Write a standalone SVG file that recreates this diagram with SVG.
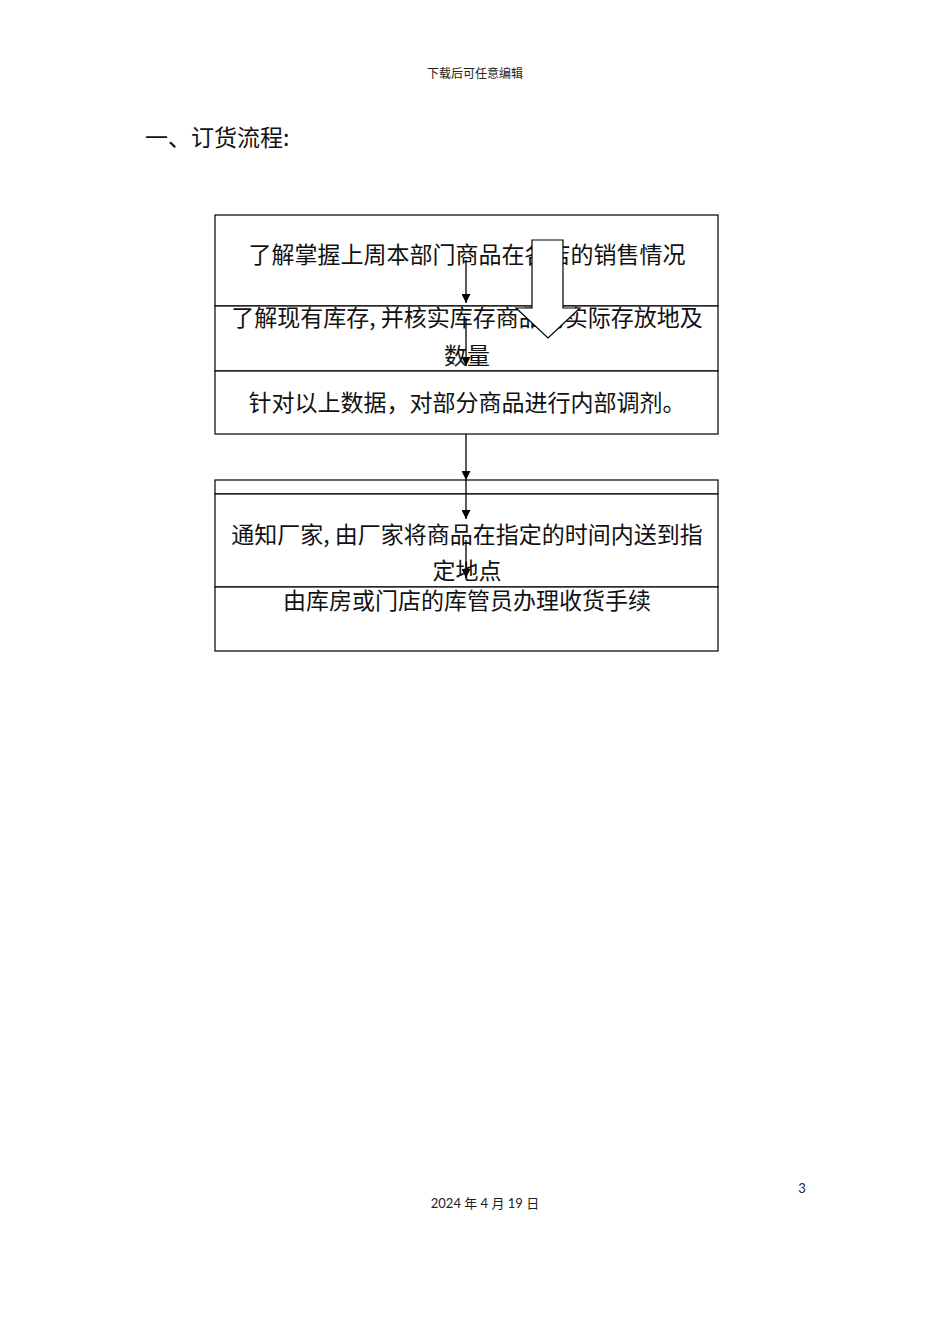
<svg xmlns="http://www.w3.org/2000/svg" width="950" height="1344" viewBox="0 0 950 1344">
<defs>
<style>
.box{fill:#fff;stroke:#000;stroke-width:1.2}
.t{font-family:"Noto Sans CJK SC","Noto Sans CJK JP",sans-serif;font-size:23px;fill:#111;text-anchor:middle}
.conn line{stroke:#000;stroke-width:1.3}
.small{font-family:"Noto Sans CJK SC",sans-serif;font-size:12px;fill:#222;text-anchor:middle}
.foot{font-family:Lato,"Noto Sans CJK SC",sans-serif;font-size:13px;fill:#222}
</style>
<marker id="ah" viewBox="0 0 10 10" refX="10" refY="5" markerWidth="9" markerHeight="9" markerUnits="userSpaceOnUse" orient="auto">
<path d="M0,0 L10,5 L0,10 Z" fill="#000"/>
</marker>
</defs>
<rect width="950" height="1344" fill="#fff"/>
<text class="small" x="475" y="78">下载后可任意编辑</text>
<text x="145" y="146" style="font-family:'Noto Sans CJK SC',sans-serif;font-size:23px;fill:#111">一、订货流程:</text>

<g id="n1"><rect class="box" x="215" y="215" width="503" height="91"/>
<text class="t" x="467" y="263">了解掌握上周本部门商品在各店的销售情况</text></g>
<g id="n2"><rect class="box" x="215" y="306" width="503" height="65"/>
<text class="t" x="467" y="326">了解现有库存, 并核实库存商品的实际存放地及</text>
<text class="t" x="467" y="364">数量</text></g>
<g id="n3"><rect class="box" x="215" y="371" width="503" height="63"/>
<text class="t" x="467" y="411">针对以上数据，对部分商品进行内部调剂。</text></g>
<g id="n4top"><rect class="box" x="215" y="480" width="503" height="14"/></g>
<g id="n4"><rect class="box" x="215" y="494" width="503" height="93"/>
<text class="t" x="467" y="543">通知厂家, 由厂家将商品在指定的时间内送到指</text>
<text class="t" x="467" y="579">定地点</text></g>
<g id="n5"><rect class="box" x="215" y="587" width="503" height="64"/>
<text class="t" x="467" y="609">由库房或门店的库管员办理收货手续</text></g>

<g id="blockarrow"><path d="M532,240 L563,240 L563,308 L580,308 L548,338 L516,308 L532,308 Z" fill="#fff" stroke="#000" stroke-width="1.2"/></g>

<g class="conn" id="connectors">
<line x1="466" y1="260" x2="466" y2="303" marker-end="url(#ah)"/>
<line x1="466" y1="318" x2="466" y2="366" marker-end="url(#ah)"/>
<line x1="466" y1="434" x2="466" y2="480" marker-end="url(#ah)"/>
<line x1="466" y1="480" x2="466" y2="519" marker-end="url(#ah)"/>
<line x1="466" y1="540" x2="466" y2="578" marker-end="url(#ah)"/>
</g>

<text class="foot" x="802" y="1193" text-anchor="middle">3</text>
<text class="foot" x="485" y="1208" text-anchor="middle">2024 年 4 月 19 日</text>
</svg>
